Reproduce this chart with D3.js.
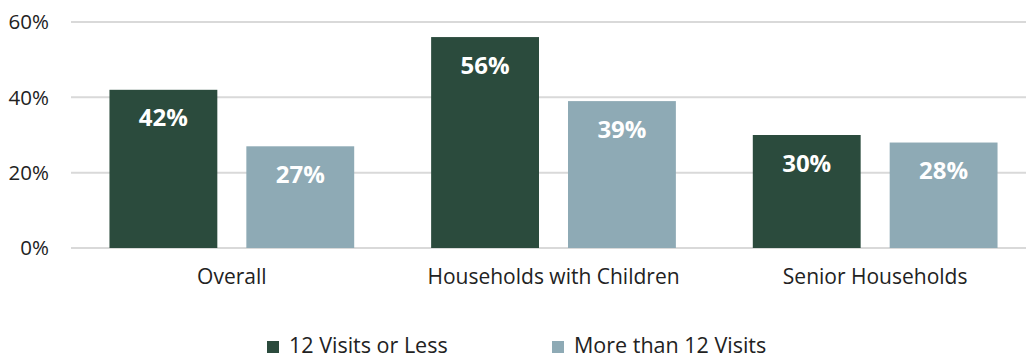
<!DOCTYPE html>
<html>
<head>
<meta charset="utf-8">
<script src="https://cdn.jsdelivr.net/npm/d3@7"></script>
<style>
	body {margin:0;background:#fff;}
	svg text {font-family:"Open Sans", sans-serif;}
</style>
</head>
<body>
<svg id="chart" width="1026" height="358"></svg>
<script>
var categories = ["Overall", "Households with Children", "Senior Households"];
var seriesNames = ["12 Visits or Less", "More than 12 Visits"];
var visitsLow = [42, 56, 30];
var visitsHigh = [27, 39, 28];
var yTicks = [0, 20, 40, 60];
var colors = ["#2b4b3d", "#8eaab5"];

var svg = d3.select("#chart");

var y = d3.scaleLinear().domain([0, 60]).range([248, 22]);
var x0 = d3.scaleBand().domain(categories).range([71, 1036]).padding(0);
var x1 = d3.scaleBand().domain(seriesNames).range([0, x0.bandwidth()])
	.paddingInner(0.212).paddingOuter(0.281);

// gridlines and y tick labels
var grid = svg.append("g").attr("class", "grid");
grid.selectAll("line").data(yTicks).enter().append("line")
	.attr("x1", 71).attr("x2", 1026)
	.attr("y1", function(d) {return y(d);})
	.attr("y2", function(d) {return y(d);})
	.attr("stroke", "#d9d9d9")
	.attr("stroke-width", 2);

grid.selectAll("text").data(yTicks).enter().append("text")
	.attr("x", 49)
	.attr("y", function(d) {return y(d);})
	.attr("dy", "0.36em")
	.attr("text-anchor", "end")
	.attr("font-size", 20.5)
	.attr("fill", "#222")
	.text(function(d) {return d + "%";});

var rows = categories.map(function(c, i) {
	return {cat: c, values: [visitsLow[i], visitsHigh[i]]};
});

var groups = svg.selectAll("g.group").data(rows).enter().append("g")
	.attr("class", "group")
	.attr("transform", function(d) {return "translate(" + x0(d.cat) + ",0)";});

var cells = groups.selectAll("g.cell")
	.data(function(d) {
		return d.values.map(function(v, j) {return {s: seriesNames[j], v: v, j: j};});
	})
	.enter().append("g").attr("class", "cell");

cells.append("rect")
	.attr("x", function(d) {return x1(d.s);})
	.attr("y", function(d) {return y(d.v);})
	.attr("width", x1.bandwidth())
	.attr("height", function(d) {return y(0) - y(d.v);})
	.attr("fill", function(d) {return colors[d.j];});

cells.append("text")
	.attr("x", function(d) {return x1(d.s) + x1.bandwidth() / 2;})
	.attr("y", function(d) {return y(d.v) + 28;})
	.attr("dy", "0.36em")
	.attr("text-anchor", "middle")
	.attr("font-size", 24)
	.attr("font-weight", "bold")
	.attr("fill", "#fff")
	.text(function(d) {return d.v + "%";});

// category labels
svg.append("g").selectAll("text").data(categories).enter().append("text")
	.attr("x", function(d) {return x0(d) + x0.bandwidth() / 2;})
	.attr("y", 284)
	.attr("text-anchor", "middle")
	.attr("font-size", 21)
	.attr("fill", "#222")
	.text(function(d) {return d;});

// legend
var legendX = [267, 552];
var legend = svg.append("g").selectAll("g").data(seriesNames).enter().append("g")
	.attr("transform", function(d, i) {return "translate(" + legendX[i] + ",353)";});
legend.append("rect")
	.attr("x", 0).attr("y", -12)
	.attr("width", 12).attr("height", 12)
	.attr("fill", function(d, i) {return colors[i];});
legend.append("text")
	.attr("x", 22)
	.attr("font-size", 21.5)
	.attr("fill", "#222")
	.text(function(d) {return d;});
</script>
</body>
</html>
